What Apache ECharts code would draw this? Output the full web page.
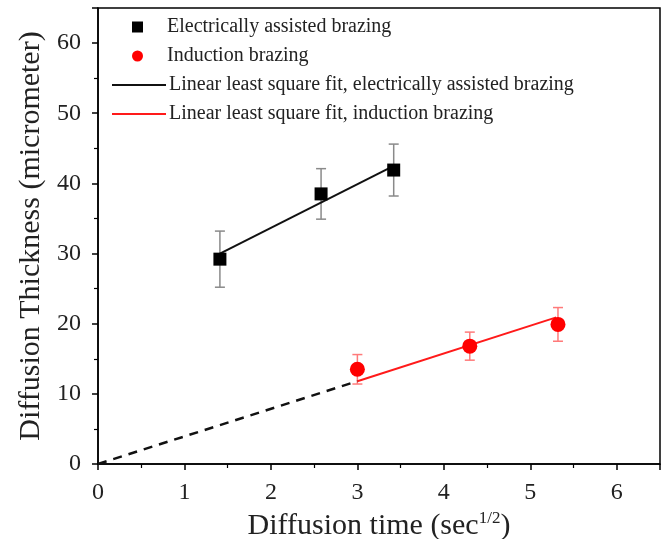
<!DOCTYPE html>
<html>
<head>
<meta charset="utf-8">
<script src="https://cdn.jsdelivr.net/npm/echarts@6/dist/echarts.min.js"></script>
<style>
  html, body { margin: 0; padding: 0; background: #fff; }
  #vis { width: 666px; height: 539px; }
</style>
</head>
<body>
<div id="vis"></div>
<script>
const eabX = [1.41, 2.58, 3.42];
const eabY = [29.2, 38.5, 41.9];
const eabErr = [4.0, 3.6, 3.7];

const indX = [3.0, 4.3, 5.32];
const indY = [13.5, 16.8, 19.9];
const indErr = [2.1, 2.0, 2.4];

// least square fit end points
const eabFitX = [1.41, 3.42];
const eabFitY = [30.0, 42.5];
const indFitX = [3.0, 5.3];
const indFitY = [11.8, 20.9];
const extrapX = [0, 3.0];
const extrapY = [0, 11.8];

const xTicks = { min: 0, max: 6.5, interval: 1 };
const yTicks = { min: 0, max: 65, interval: 10 };

const FONT = "Liberation Serif";
const NAME_EAB = "Electrically assisted brazing";
const NAME_IND = "Induction brazing";
const NAME_FIT_EAB = "Linear least square fit, electrically assisted brazing";
const NAME_FIT_IND = "Linear least square fit, induction brazing";

const vis = document.getElementById("vis");
const chart = echarts.init(vis);

function pairs(xs, ys) {
  return xs.map((x, i) => [x, ys[i]]);
}

function errRows(xs, ys, errs) {
  return xs.map((x, i) => [x, ys[i] - errs[i], ys[i] + errs[i]]);
}

function errorBar(color) {
  return function(params, api) {
    const lo = api.coord([api.value(0), api.value(1)]);
    const hi = api.coord([api.value(0), api.value(2)]);
    const cap = 5;
    const style = { stroke: color, lineWidth: 1.5, fill: null };
    return {
      type: "group",
      children: [
        { type: "line", shape: { x1: lo[0], y1: lo[1], x2: hi[0], y2: hi[1] }, style },
        { type: "line", shape: { x1: lo[0] - cap, y1: lo[1], x2: lo[0] + cap, y2: lo[1] }, style },
        { type: "line", shape: { x1: hi[0] - cap, y1: hi[1], x2: hi[0] + cap, y2: hi[1] }, style }
      ]
    };
  };
}

const legendText = { fontFamily: FONT, fontSize: 20, color: "#222", lineHeight: 20 };

const axisCommon = {
  axisLine: { show: true, onZero: false, lineStyle: { color: "#000", width: 1.5 } },
  axisTick: { show: true, inside: false, length: 6, lineStyle: { color: "#000", width: 1.5 } },
  minorTick: { show: true, splitNumber: 2, length: 4, lineStyle: { color: "#000", width: 1.2 } },
  splitLine: { show: false }
};

const options = {
  animation: false,
  backgroundColor: "#fff",
  grid: {
    left: 98, right: 6, top: 8, bottom: 75,
    outerBoundsMode: "none",
    containLabel: false,
    show: true, borderColor: "#000", borderWidth: 1.5, backgroundColor: "transparent"
  },
  legend: [
    {
      orient: "vertical",
      left: 127,
      top: 12,
      itemWidth: 11,
      itemHeight: 11,
      itemGap: 9,
      textStyle: Object.assign({ padding: [0, 0, 0, 19] }, legendText),
      data: [
        { name: NAME_EAB, icon: "rect" },
        { name: NAME_IND, icon: "circle" }
      ]
    },
    {
      orient: "vertical",
      left: 107,
      top: 70,
      itemWidth: 54,
      itemHeight: 2,
      itemGap: 9,
      textStyle: Object.assign({ padding: [0, 0, 0, -2] }, legendText),
      data: [
        { name: NAME_FIT_EAB, icon: "rect" },
        { name: NAME_FIT_IND, icon: "rect" }
      ]
    }
  ],
  xAxis: Object.assign({}, axisCommon, {
    type: "value",
    min: xTicks.min, max: xTicks.max, interval: xTicks.interval,
    name: "Diffusion time (sec{sup|1/2})",
    nameLocation: "middle",
    nameGap: 35,
    nameTextStyle: {
      fontFamily: FONT, fontSize: 30, color: "#222",
      rich: { sup: { fontFamily: FONT, fontSize: 17, color: "#222", padding: [0, 0, 15, 0] } }
    },
    axisLabel: { fontFamily: FONT, fontSize: 24, color: "#222", margin: 17, showMaxLabel: false }
  }),
  yAxis: Object.assign({}, axisCommon, {
    type: "value",
    min: yTicks.min, max: yTicks.max, interval: yTicks.interval,
    name: "Diffusion Thickness (micrometer)",
    nameLocation: "middle",
    nameGap: 52,
    nameTextStyle: { fontFamily: FONT, fontSize: 30, color: "#222" },
    axisLabel: { fontFamily: FONT, fontSize: 24, color: "#222", margin: 17, showMaxLabel: false }
  }),
  series: [
    {
      name: NAME_FIT_EAB,
      type: "line",
      data: pairs(eabFitX, eabFitY),
      symbol: "none",
      lineStyle: { color: "#111", width: 2 },
      itemStyle: { color: "#111" },
      z: 3
    },
    {
      name: NAME_FIT_IND,
      type: "line",
      data: pairs(indFitX, indFitY),
      symbol: "none",
      lineStyle: { color: "#ff1a1a", width: 2 },
      itemStyle: { color: "#ff1a1a" },
      z: 3
    },
    {
      name: "extrapolation",
      type: "line",
      data: pairs(extrapX, extrapY),
      symbol: "none",
      lineStyle: { color: "#111", width: 2.5, type: [9, 7] },
      z: 3
    },
    {
      name: "eab-err",
      type: "custom",
      data: errRows(eabX, eabY, eabErr),
      renderItem: errorBar("#8a8a8a"),
      encode: { x: 0, y: [1, 2] },
      z: 2
    },
    {
      name: "ind-err",
      type: "custom",
      data: errRows(indX, indY, indErr),
      renderItem: errorBar("#ff7a7a"),
      encode: { x: 0, y: [1, 2] },
      z: 2
    },
    {
      name: NAME_EAB,
      type: "scatter",
      data: pairs(eabX, eabY),
      symbol: "rect",
      symbolSize: 13,
      itemStyle: { color: "#000", opacity: 1 },
      z: 4
    },
    {
      name: NAME_IND,
      type: "scatter",
      data: pairs(indX, indY),
      symbol: "circle",
      symbolSize: 15,
      itemStyle: { color: "#ff0000", opacity: 1 },
      z: 4
    }
  ]
};

chart.setOption(options);
</script>
</body>
</html>
